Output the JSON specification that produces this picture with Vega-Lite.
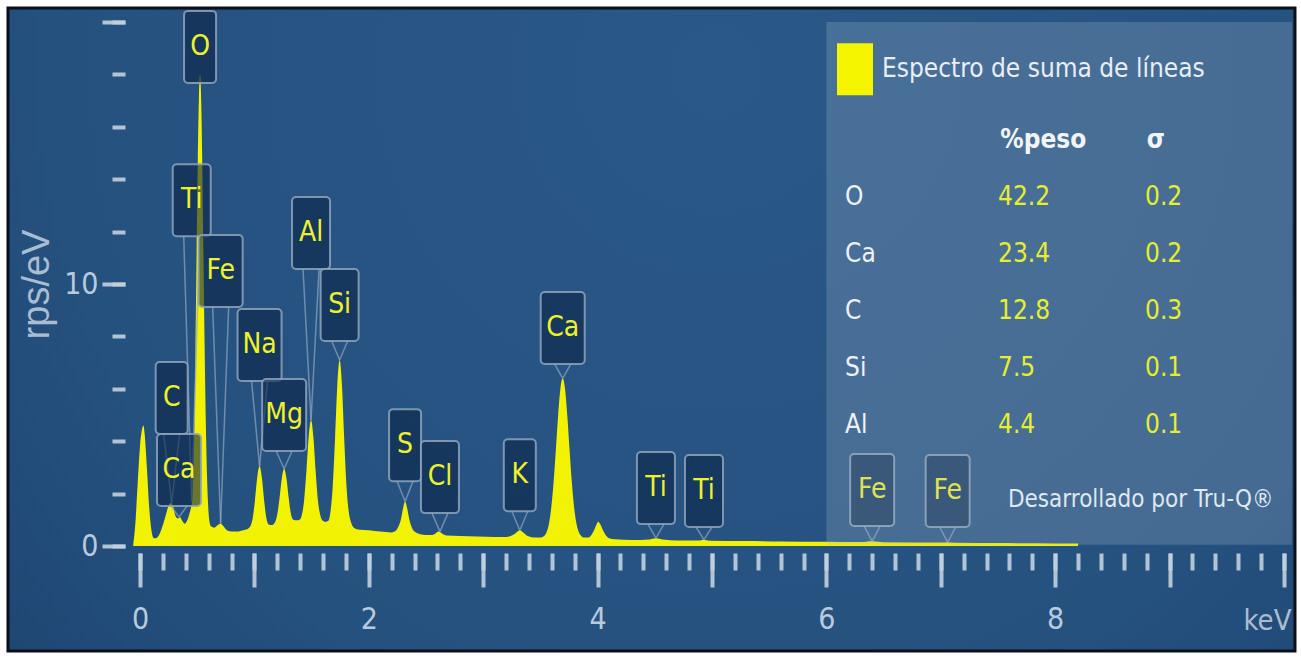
{
  "$schema": "https://vega.github.io/schema/vega-lite/v6.json",
  "width": 1144,
  "height": 524,
  "autosize": "none",
  "padding": {"left": 140, "top": 22, "right": 17, "bottom": 113},
  "background": "white",
  "config": {
    "view": {"stroke": null},
    "axis": {"zindex": 1, "grid": false, "domain": false, "tickColor": "#c2d0de", "tickWidth": 4, "tickOpacity": 0.9, "labelFont": "Liberation Sans Narrow, DejaVu Sans Condensed, Roboto, sans-serif", "titleFont": "Liberation Sans Narrow, DejaVu Sans Condensed, Roboto, sans-serif", "labelColor": "#b9cadc", "titleColor": "#a9bdd2", "titleFontWeight": "normal"},
    "text": {"font": "Liberation Sans Narrow, DejaVu Sans Condensed, Roboto, sans-serif"}
  },
  "datasets": {
    "spectrum": [
      {"keV": -0.06, "cps": 0}, {"keV": -0.04, "cps": 0.9}, {"keV": -0.02, "cps": 2.4}, {"keV": 0.0, "cps": 3.8}, {"keV": 0.02, "cps": 4.5}, {"keV": 0.03, "cps": 4.6}, {"keV": 0.04, "cps": 4.3}, {"keV": 0.06, "cps": 3.0}, {"keV": 0.08, "cps": 1.5}, {"keV": 0.10, "cps": 0.6}, {"keV": 0.12, "cps": 0.3}, {"keV": 0.14, "cps": 0.3}, {"keV": 0.17, "cps": 0.45}, {"keV": 0.20, "cps": 0.8}, {"keV": 0.23, "cps": 1.25}, {"keV": 0.25, "cps": 1.55}, {"keV": 0.27, "cps": 1.65}, {"keV": 0.29, "cps": 1.5}, {"keV": 0.31, "cps": 1.15}, {"keV": 0.33, "cps": 1.05}, {"keV": 0.35, "cps": 1.1}, {"keV": 0.37, "cps": 0.95}, {"keV": 0.39, "cps": 0.85}, {"keV": 0.41, "cps": 0.95}, {"keV": 0.43, "cps": 1.2}, {"keV": 0.445, "cps": 1.45}, {"keV": 0.455, "cps": 1.7}, {"keV": 0.465, "cps": 2.6}, {"keV": 0.475, "cps": 4.6}, {"keV": 0.485, "cps": 7.5}, {"keV": 0.495, "cps": 11.2}, {"keV": 0.505, "cps": 14.6}, {"keV": 0.515, "cps": 17.1}, {"keV": 0.525, "cps": 18.0}, {"keV": 0.535, "cps": 17.0}, {"keV": 0.545, "cps": 14.4}, {"keV": 0.555, "cps": 11.0}, {"keV": 0.565, "cps": 7.6}, {"keV": 0.575, "cps": 4.8}, {"keV": 0.585, "cps": 2.8}, {"keV": 0.595, "cps": 1.6}, {"keV": 0.605, "cps": 1.0}, {"keV": 0.62, "cps": 0.75}, {"keV": 0.65, "cps": 0.7}, {"keV": 0.68, "cps": 0.8}, {"keV": 0.705, "cps": 0.85}, {"keV": 0.73, "cps": 0.75}, {"keV": 0.76, "cps": 0.6}, {"keV": 0.80, "cps": 0.55}, {"keV": 0.85, "cps": 0.55}, {"keV": 0.90, "cps": 0.6}, {"keV": 0.94, "cps": 0.65}, {"keV": 0.965, "cps": 0.76}, {"keV": 0.985, "cps": 1.06}, {"keV": 1.005, "cps": 1.75}, {"keV": 1.025, "cps": 2.62}, {"keV": 1.045, "cps": 3.05}, {"keV": 1.065, "cps": 2.62}, {"keV": 1.085, "cps": 1.75}, {"keV": 1.105, "cps": 1.06}, {"keV": 1.125, "cps": 0.82}, {"keV": 1.15, "cps": 0.8}, {"keV": 1.18, "cps": 0.91}, {"keV": 1.20, "cps": 1.21}, {"keV": 1.22, "cps": 1.83}, {"keV": 1.24, "cps": 2.59}, {"keV": 1.26, "cps": 2.95}, {"keV": 1.28, "cps": 2.59}, {"keV": 1.30, "cps": 1.83}, {"keV": 1.32, "cps": 1.21}, {"keV": 1.34, "cps": 1.0}, {"keV": 1.37, "cps": 0.98}, {"keV": 1.395, "cps": 1.0}, {"keV": 1.415, "cps": 1.19}, {"keV": 1.435, "cps": 1.76}, {"keV": 1.455, "cps": 2.88}, {"keV": 1.475, "cps": 4.19}, {"keV": 1.495, "cps": 4.8}, {"keV": 1.515, "cps": 4.19}, {"keV": 1.535, "cps": 2.88}, {"keV": 1.555, "cps": 1.76}, {"keV": 1.575, "cps": 1.19}, {"keV": 1.60, "cps": 0.95}, {"keV": 1.62, "cps": 0.92}, {"keV": 1.645, "cps": 0.95}, {"keV": 1.665, "cps": 1.31}, {"keV": 1.685, "cps": 2.29}, {"keV": 1.705, "cps": 4.1}, {"keV": 1.725, "cps": 6.16}, {"keV": 1.745, "cps": 7.1}, {"keV": 1.765, "cps": 6.16}, {"keV": 1.785, "cps": 4.1}, {"keV": 1.805, "cps": 2.29}, {"keV": 1.825, "cps": 1.31}, {"keV": 1.845, "cps": 0.9}, {"keV": 1.87, "cps": 0.7}, {"keV": 1.92, "cps": 0.62}, {"keV": 2.0, "cps": 0.6}, {"keV": 2.1, "cps": 0.55}, {"keV": 2.2, "cps": 0.52}, {"keV": 2.24, "cps": 0.6}, {"keV": 2.26, "cps": 0.75}, {"keV": 2.28, "cps": 1.0}, {"keV": 2.30, "cps": 1.45}, {"keV": 2.317, "cps": 1.7}, {"keV": 2.335, "cps": 1.45}, {"keV": 2.355, "cps": 1.0}, {"keV": 2.375, "cps": 0.72}, {"keV": 2.40, "cps": 0.55}, {"keV": 2.45, "cps": 0.45}, {"keV": 2.50, "cps": 0.42}, {"keV": 2.55, "cps": 0.42}, {"keV": 2.58, "cps": 0.47}, {"keV": 2.61, "cps": 0.55}, {"keV": 2.64, "cps": 0.48}, {"keV": 2.68, "cps": 0.4}, {"keV": 2.8, "cps": 0.38}, {"keV": 2.95, "cps": 0.36}, {"keV": 3.1, "cps": 0.34}, {"keV": 3.2, "cps": 0.34}, {"keV": 3.25, "cps": 0.4}, {"keV": 3.29, "cps": 0.52}, {"keV": 3.32, "cps": 0.6}, {"keV": 3.35, "cps": 0.52}, {"keV": 3.39, "cps": 0.38}, {"keV": 3.45, "cps": 0.32}, {"keV": 3.50, "cps": 0.32}, {"keV": 3.535, "cps": 0.39}, {"keV": 3.555, "cps": 0.54}, {"keV": 3.575, "cps": 0.86}, {"keV": 3.595, "cps": 1.47}, {"keV": 3.615, "cps": 2.42}, {"keV": 3.635, "cps": 3.67}, {"keV": 3.655, "cps": 4.98}, {"keV": 3.675, "cps": 6.01}, {"keV": 3.695, "cps": 6.4}, {"keV": 3.715, "cps": 6.01}, {"keV": 3.735, "cps": 4.98}, {"keV": 3.755, "cps": 3.67}, {"keV": 3.775, "cps": 2.42}, {"keV": 3.795, "cps": 1.47}, {"keV": 3.815, "cps": 0.86}, {"keV": 3.835, "cps": 0.54}, {"keV": 3.855, "cps": 0.39}, {"keV": 3.88, "cps": 0.32}, {"keV": 3.92, "cps": 0.32}, {"keV": 3.95, "cps": 0.45}, {"keV": 3.975, "cps": 0.66}, {"keV": 3.99, "cps": 0.82}, {"keV": 4.006, "cps": 0.93}, {"keV": 4.025, "cps": 0.82}, {"keV": 4.045, "cps": 0.62}, {"keV": 4.07, "cps": 0.42}, {"keV": 4.10, "cps": 0.3}, {"keV": 4.15, "cps": 0.26}, {"keV": 4.3, "cps": 0.23}, {"keV": 4.45, "cps": 0.25}, {"keV": 4.51, "cps": 0.3}, {"keV": 4.57, "cps": 0.25}, {"keV": 4.7, "cps": 0.21}, {"keV": 4.88, "cps": 0.21}, {"keV": 4.93, "cps": 0.24}, {"keV": 4.98, "cps": 0.2}, {"keV": 5.3, "cps": 0.19}, {"keV": 5.6, "cps": 0.17}, {"keV": 6.0, "cps": 0.16}, {"keV": 6.3, "cps": 0.15}, {"keV": 6.4, "cps": 0.18}, {"keV": 6.5, "cps": 0.14}, {"keV": 7.0, "cps": 0.13}, {"keV": 7.06, "cps": 0.14}, {"keV": 7.12, "cps": 0.12}, {"keV": 7.5, "cps": 0.11}, {"keV": 8.0, "cps": 0.1}, {"keV": 8.2, "cps": 0.1}
    ],
    "peaks": [
      {"el": "O", "keV": 0.525, "ly": 19.05, "tip": 17.7},
      {"el": "Ti", "keV": 0.452, "ly": 13.2, "tip": 1.7},
      {"el": "Fe", "keV": 0.705, "ly": 10.5, "tip": 0.85},
      {"el": "C", "keV": 0.277, "ly": 5.65, "tip": 1.65},
      {"el": "Ca", "keV": 0.341, "ly": 2.9, "tip": 1.1},
      {"el": "Na", "keV": 1.045, "ly": 7.67, "tip": 3.05},
      {"el": "Mg", "keV": 1.26, "ly": 5.0, "tip": 2.95},
      {"el": "Al", "keV": 1.495, "ly": 11.95, "tip": 4.8},
      {"el": "Si", "keV": 1.745, "ly": 9.2, "tip": 7.1},
      {"el": "S", "keV": 2.317, "ly": 3.85, "tip": 1.7},
      {"el": "Cl", "keV": 2.622, "ly": 2.63, "tip": 0.55},
      {"el": "K", "keV": 3.32, "ly": 2.7, "tip": 0.6},
      {"el": "Ca", "keV": 3.695, "ly": 8.32, "tip": 6.4},
      {"el": "Ti", "keV": 4.51, "ly": 2.21, "tip": 0.3},
      {"el": "Ti", "keV": 4.93, "ly": 2.1, "tip": 0.24},
      {"el": "Fe", "keV": 6.40, "ly": 2.14, "tip": 0.18},
      {"el": "Fe", "keV": 7.06, "ly": 2.1, "tip": 0.14}
    ],
    "table": [
      {"el": "O", "peso": "42.2", "sigma": "0.2", "rank": 1},
      {"el": "Ca", "peso": "23.4", "sigma": "0.2", "rank": 2},
      {"el": "C", "peso": "12.8", "sigma": "0.3", "rank": 3},
      {"el": "Si", "peso": "7.5", "sigma": "0.1", "rank": 4},
      {"el": "Al", "peso": "4.4", "sigma": "0.1", "rank": 5}
    ]
  },
  "layer": [
    {
      "resolve": {"axis": {"x": "independent", "y": "independent"}},
      "layer": [
        {
          "data": {"values": [{}]},
          "mark": {"type": "rect", "stroke": "#0a0f18", "strokeWidth": 3, "color": {"gradient": "radial", "x1": 0.55, "y1": 0.3, "r1": 0, "x2": 0.55, "y2": 0.3, "r2": 0.8, "stops": [{"offset": 0, "color": "#2a5887"}, {"offset": 0.65, "color": "#25517f"}, {"offset": 1, "color": "#1c426f"}]}},
          "encoding": {
            "x": {"datum": -1.154, "type": "quantitative", "scale": {"domain": [0, 10], "nice": false, "zero": false}, "axis": null},
            "x2": {"datum": 10.096},
            "y": {"datum": 20.53, "type": "quantitative", "scale": {"domain": [0, 20], "nice": false, "zero": false}, "axis": null},
            "y2": {"datum": -4.01}
          }
        },
        {
          "data": {"name": "spectrum"},
          "mark": {"type": "area", "color": "#f2f205", "interpolate": "monotone"},
          "encoding": {
            "x": {"field": "keV", "type": "quantitative", "scale": {"domain": [0, 10], "nice": false, "zero": false},
              "axis": {"orient": "bottom", "zindex": 2, "values": [0, 1, 2, 3, 4, 5, 6, 7, 8, 9, 10], "tickSize": 34, "offset": 7, "labelExpr": "datum.value % 2 == 0 && datum.value < 10 ? datum.label : ''", "labelFontSize": 30, "labelPadding": 17, "labelFlush": false, "labelOverlap": false, "labelBound": false, "title": "keV", "titleFontSize": 29, "titleX": 1127, "titleY": 67, "titleAlign": "center", "titleBaseline": "middle"}},
            "y": {"field": "cps", "type": "quantitative", "scale": {"domain": [0, 20], "nice": false, "zero": false},
              "axis": {"orient": "left", "zindex": 2, "values": [0, 10, 20], "tickSize": 23, "offset": 15, "labelExpr": "datum.value == 20 ? '' : datum.label", "labelFontSize": 30, "labelPadding": 4, "labelBaseline": "middle", "labelFlush": false, "labelOverlap": false, "title": "rps/eV", "titleFont": "Liberation Sans, sans-serif", "titleFontSize": 38, "titleX": -88, "titleY": 262, "titleAngle": -90, "titleAlign": "center", "titleBaseline": "middle"}}
          }
        },
        {
          "data": {"name": "peaks"},
          "mark": {"type": "rule", "color": "#8fa5bd", "strokeWidth": 1.5, "opacity": 0.7, "xOffset": -8, "yOffset": 36},
          "encoding": {
            "x": {"field": "keV", "type": "quantitative", "scale": {"domain": [0, 10], "nice": false, "zero": false},
              "axis": {"orient": "bottom", "zindex": 2, "values": [0, 0.2, 0.4, 0.6, 0.8, 1, 1.2, 1.4, 1.6, 1.8, 2, 2.2, 2.4, 2.6, 2.8, 3, 3.2, 3.4, 3.6, 3.8, 4, 4.2, 4.4, 4.6, 4.8, 5, 5.2, 5.4, 5.6, 5.8, 6, 6.2, 6.4, 6.6, 6.8, 7, 7.2, 7.4, 7.6, 7.8, 8, 8.2, 8.4, 8.6, 8.8, 9, 9.2, 9.4, 9.6, 9.8, 10], "tickSize": 17, "offset": 7, "labels": false, "title": null}},
            "x2": {"field": "keV"},
            "y": {"field": "ly", "type": "quantitative", "scale": {"domain": [0, 20], "nice": false, "zero": false},
              "axis": {"orient": "left", "zindex": 2, "values": [0, 2, 4, 6, 8, 10, 12, 14, 16, 18, 20], "tickSize": 13, "offset": 15, "labels": false, "title": null}},
            "y2": {"field": "tip"}
          }
        },
        {
          "data": {"name": "peaks"},
          "mark": {"type": "rule", "color": "#8fa5bd", "strokeWidth": 1.5, "opacity": 0.7, "xOffset": 8, "yOffset": 36},
          "encoding": {
            "x": {"field": "keV", "type": "quantitative", "axis": null},
            "x2": {"field": "keV"},
            "y": {"field": "ly", "type": "quantitative", "axis": null},
            "y2": {"field": "tip"}
          }
        },
        {
          "data": {"name": "peaks"},
          "transform": [{"filter": "length(datum.el) == 1"}],
          "mark": {"type": "rect", "width": 32, "height": 72, "fill": "#0b2446", "fillOpacity": 0.6, "stroke": "#8ea4bc", "strokeOpacity": 0.85, "strokeWidth": 2, "cornerRadius": 4},
          "encoding": {
            "x": {"field": "keV", "type": "quantitative", "axis": null},
            "y": {"field": "ly", "type": "quantitative", "axis": null}
          }
        },
        {
          "data": {"name": "peaks"},
          "transform": [{"filter": "indexof(['Ti','Si','Al','Cl'], datum.el) >= 0"}],
          "mark": {"type": "rect", "width": 38, "height": 72, "fill": "#0b2446", "fillOpacity": 0.6, "stroke": "#8ea4bc", "strokeOpacity": 0.85, "strokeWidth": 2, "cornerRadius": 4},
          "encoding": {
            "x": {"field": "keV", "type": "quantitative", "axis": null},
            "y": {"field": "ly", "type": "quantitative", "axis": null}
          }
        },
        {
          "data": {"name": "peaks"},
          "transform": [{"filter": "indexof(['Fe','Na','Mg','Ca'], datum.el) >= 0"}],
          "mark": {"type": "rect", "width": 44, "height": 72, "fill": "#0b2446", "fillOpacity": 0.6, "stroke": "#8ea4bc", "strokeOpacity": 0.85, "strokeWidth": 2, "cornerRadius": 4},
          "encoding": {
            "x": {"field": "keV", "type": "quantitative", "axis": null},
            "y": {"field": "ly", "type": "quantitative", "axis": null}
          }
        },
        {
          "data": {"name": "peaks"},
          "mark": {"type": "text", "color": "#eef22a", "fontSize": 28, "align": "center", "baseline": "middle"},
          "encoding": {
            "x": {"field": "keV", "type": "quantitative", "axis": null},
            "y": {"field": "ly", "type": "quantitative", "axis": null},
            "text": {"field": "el"}
          }
        },
        {
          "data": {"values": [{}]},
          "mark": {"type": "rect", "fill": "#a9bdd1", "fillOpacity": 0.25},
          "encoding": {
            "x": {"datum": 6.0, "type": "quantitative", "axis": null},
            "x2": {"datum": 10.07},
            "y": {"datum": 20.0, "type": "quantitative", "axis": null},
            "y2": {"datum": 0.05}
          }
        },
        {
          "data": {"values": [{}]},
          "mark": {"type": "rect", "fill": "#f5f500", "width": 36, "height": 52},
          "encoding": {
            "x": {"datum": 6.25, "type": "quantitative", "axis": null},
            "y": {"datum": 18.2, "type": "quantitative", "axis": null}
          }
        },
        {
          "data": {"values": [{}]},
          "mark": {"type": "text", "text": "Espectro de suma de líneas", "color": "#e8eef5", "fontSize": 26, "align": "left", "baseline": "middle"},
          "encoding": {
            "x": {"datum": 6.486, "type": "quantitative", "axis": null},
            "y": {"datum": 18.2, "type": "quantitative", "axis": null}
          }
        },
        {
          "data": {"values": [{}]},
          "mark": {"type": "text", "text": "%peso", "color": "#f2f5f8", "fontSize": 26, "fontWeight": "bold", "align": "left", "baseline": "middle"},
          "encoding": {
            "x": {"datum": 7.52, "type": "quantitative", "axis": null},
            "y": {"datum": 15.5, "type": "quantitative", "axis": null}
          }
        },
        {
          "data": {"values": [{}]},
          "mark": {"type": "text", "text": "σ", "color": "#f2f5f8", "fontSize": 26, "fontWeight": "bold", "align": "left", "baseline": "middle"},
          "encoding": {
            "x": {"datum": 8.8, "type": "quantitative", "axis": null},
            "y": {"datum": 15.5, "type": "quantitative", "axis": null}
          }
        },
        {
          "data": {"values": [{}]},
          "mark": {"type": "text", "text": "Desarrollado por Tru-Q®", "color": "#dfe7ef", "fontSize": 24, "align": "left", "baseline": "middle"},
          "encoding": {
            "x": {"datum": 7.587, "type": "quantitative", "axis": null},
            "y": {"datum": 1.76, "type": "quantitative", "axis": null}
          }
        }
      ]
    },
    {
      "data": {"name": "table"},
      "encoding": {
        "y": {"field": "rank", "type": "quantitative", "scale": {"domain": [-2.07, 7.123], "reverse": true, "nice": false, "zero": false}, "axis": null}
      },
      "layer": [
        {
          "mark": {"type": "text", "color": "#eef2f6", "fontSize": 26, "align": "left", "baseline": "middle"},
          "encoding": {"x": {"datum": 6.163, "type": "quantitative", "axis": null}, "text": {"field": "el"}}
        },
        {
          "mark": {"type": "text", "color": "#e6ee2e", "fontSize": 26, "align": "left", "baseline": "middle"},
          "encoding": {"x": {"datum": 7.5, "type": "quantitative", "axis": null}, "text": {"field": "peso"}}
        },
        {
          "mark": {"type": "text", "color": "#e6ee2e", "fontSize": 26, "align": "left", "baseline": "middle"},
          "encoding": {"x": {"datum": 8.785, "type": "quantitative", "axis": null}, "text": {"field": "sigma"}}
        }
      ]
    }
  ],
  "resolve": {"scale": {"y": "independent"}}
}
